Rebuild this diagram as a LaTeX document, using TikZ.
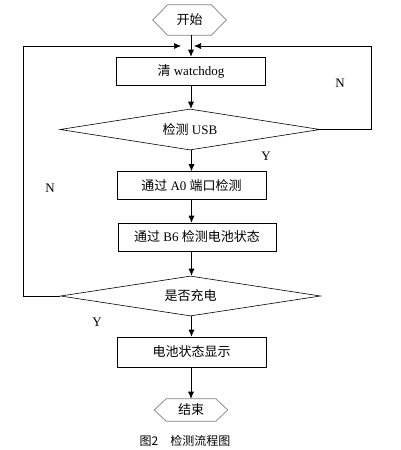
\documentclass[tikz,border=0pt]{standalone}
\usepackage{fontspec}
\setmainfont{Liberation Serif}
\newfontfamily\cjk{Noto Sans CJK SC}
\usetikzlibrary{shapes.geometric,arrows.meta}

\begin{document}
\begin{tikzpicture}[x=1pt, y=-1pt, >={Latex[length=7pt,width=6pt]}, line width=0.6pt,
	every node/.style={font=\fontsize{13}{15}\selectfont},
	box/.style={draw, minimum width=149pt, minimum height=28pt, inner sep=0pt},
	judge/.style={draw, diamond, aspect=6, minimum width=260pt, minimum height=41pt, inner sep=0pt},
	term/.style={minimum width=73pt, minimum height=30pt, inner sep=0pt},
	hexline/.style={draw=gray, line width=0.7pt}]
	
	\useasboundingbox (0,0) rectangle (400,450);
	
	% ================= 开始 / 结束 =================
	\node[term] (start) at (189.5,20) {\cjk 开始};
	\draw[hexline] (start.west) -- ([xshift=15pt]start.north west) -- ([xshift=-15pt]start.north east)
		-- (start.east) -- ([xshift=-15pt]start.south east) -- ([xshift=15pt]start.south west) -- cycle;
	
	\node[term, minimum height=22pt] (stop) at (191,410) {\cjk 结束};
	\draw[hexline] (stop.west) -- ([xshift=12pt]stop.north west) -- ([xshift=-12pt]stop.north east)
		-- (stop.east) -- ([xshift=-12pt]stop.south east) -- ([xshift=12pt]stop.south west) -- cycle;
	
	% ================= 处理框与判断框 =================
	\node[box] (clr) at (191,71) {{\cjk 清} watchdog};
	\node[judge] (usb) at (190,129.5) {{\cjk 检测} USB};
	\node[box] (adc) at (191.5,185.5) {{\cjk 通过} A0 {\cjk 端口检测}};
	\node[box, minimum width=158pt] (bat) at (197,237) {{\cjk 通过} B6 {\cjk 检测电池状态}};
	\node[judge, minimum height=40pt] (chg) at (190.5,296) {\cjk 是否充电};
	\node[box, minimum height=30pt] (show) at (191.5,352) {\cjk 电池状态显示};
	
	% 回流汇合点
	\coordinate (inL) at (181,46);
	\coordinate (inR) at (194,46);
	
	% ================= 主流程箭头 =================
	\draw[->] (start.south -| clr) -- (clr.north);
	\draw[->] (clr.south) -- (clr.south |- usb.north);
	\draw[->] (usb.south -| adc) -- (adc.north);
	\draw[->] (adc.south) -- (adc.south |- bat.north);
	\draw[->] (adc |- bat.south) -- (adc |- chg.north);
	\draw[->] (chg.south -| show) -- (show.north);
	\draw[->] (show.south -| stop) -- (stop.north);
	
	% ================= 回流 N 分支 =================
	\draw[->] (usb.east) -- ++(51,0) |- (inR);
	\draw[->] (chg.west) -- ++(-37,0) |- (inL);
	
	% 分支标注
	\node (usbN) at (340,83) {N};
	\node (usbY) at (266,156) {Y};
	\node (chgN) at (50,188) {N};
	\node (chgY) at (97,322) {Y};
	
	% 图题
	\node[font=\fontsize{12}{14}\selectfont] (cap) at (185,441) {\cjk 图2\quad 检测流程图};
	
\end{tikzpicture}
\end{document}
